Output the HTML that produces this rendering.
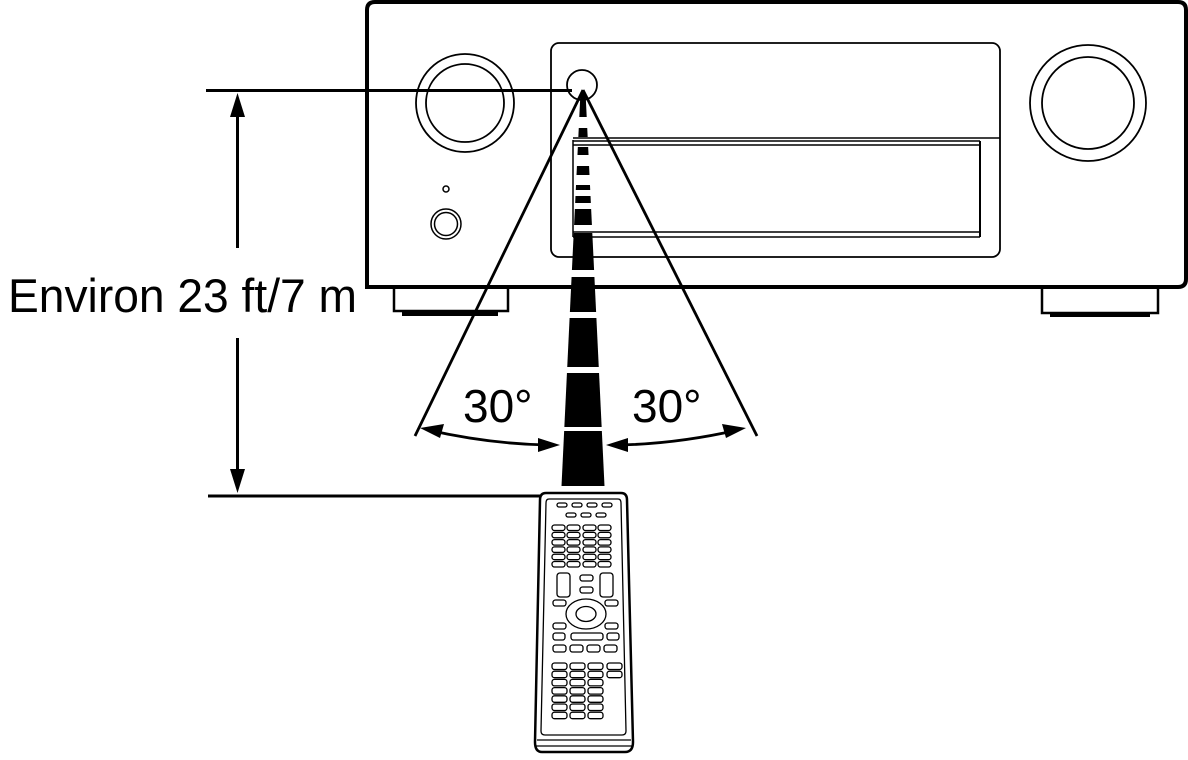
<!DOCTYPE html>
<html><head><meta charset="utf-8"><style>html,body{margin:0;padding:0;background:#fff}svg{display:block}</style></head>
<body>
<svg width="1188" height="760" viewBox="0 0 1188 760" xmlns="http://www.w3.org/2000/svg">
<defs>
<clipPath id="beam"><polygon points="580.5,92 585.5,92 604.5,486 561.5,486"/></clipPath>
</defs>
<g fill="none" stroke="#000">
<!-- receiver body -->
<path d="M367,287 V10 Q367,2 375,2 H1178 Q1186,2 1186,10 V279 Q1186,287 1178,287 Z" stroke-width="4" fill="#fff"/>
<!-- feet -->
<path d="M394,287 V311 H508 V287" stroke-width="2.5"/>
<rect x="402" y="311" width="96" height="5" fill="#000" stroke="none"/>
<path d="M1042,289 V313 H1158 V289" stroke-width="2.5"/>
<rect x="1050" y="312" width="100" height="5" fill="#000" stroke="none"/>
<!-- display panel -->
<rect x="551" y="43" width="449" height="214" rx="8" stroke-width="1.8"/>
<line x1="573" y1="138" x2="1000" y2="138" stroke-width="1.5"/>
<line x1="573" y1="141" x2="980" y2="141" stroke-width="1.5"/>
<line x1="573" y1="145" x2="980" y2="145" stroke-width="1.5"/>
<line x1="573" y1="232" x2="980" y2="232" stroke-width="1.5"/>
<line x1="573" y1="237" x2="980" y2="237" stroke-width="1.5"/>
<line x1="980" y1="141" x2="980" y2="237" stroke-width="2"/>
<line x1="573" y1="140" x2="573" y2="237" stroke-width="1.5"/>
<!-- knobs -->
<circle cx="465" cy="103" r="49" stroke-width="1.8"/>
<circle cx="465" cy="103" r="39" stroke-width="1.8"/>
<circle cx="1088" cy="103" r="58" stroke-width="1.8"/>
<circle cx="1088" cy="103" r="46" stroke-width="1.8"/>
<circle cx="446" cy="189" r="3" stroke-width="1.5"/>
<circle cx="446" cy="224" r="15" stroke-width="1.5"/>
<circle cx="446" cy="224" r="11.5" stroke-width="1.5"/>
<!-- sensor -->
<circle cx="582" cy="85" r="15" stroke-width="1.8"/>
</g>
<!-- dimension lines -->
<g stroke="#000" fill="#000">
<line x1="206" y1="90.5" x2="572" y2="90.5" stroke-width="3"/>
<line x1="208" y1="496" x2="540" y2="496" stroke-width="3"/>
<line x1="237.5" y1="110" x2="237.5" y2="248" stroke-width="3"/>
<line x1="237.5" y1="338" x2="237.5" y2="475" stroke-width="3"/>
<polygon points="237.5,93 230,117 245,117" stroke="none"/>
<polygon points="237.5,493 230,469 245,469" stroke="none"/>
<!-- beam lines -->
<line x1="583" y1="90" x2="415" y2="436" stroke-width="2.8"/>
<line x1="583" y1="90" x2="757" y2="436" stroke-width="2.8"/>
</g>
<!-- dashed beam -->
<g clip-path="url(#beam)" fill="#000">
<rect x="550" y="92" width="70" height="25"/>
<rect x="550" y="128" width="70" height="9"/>
<rect x="550" y="147" width="70" height="8"/>
<rect x="550" y="166" width="70" height="9"/>
<rect x="550" y="185" width="70" height="5"/>
<rect x="550" y="196" width="70" height="7"/>
<rect x="550" y="209" width="70" height="16"/>
<rect x="550" y="233" width="70" height="37"/>
<rect x="550" y="277" width="70" height="35"/>
<rect x="550" y="318" width="70" height="49"/>
<rect x="550" y="373" width="70" height="54"/>
<rect x="550" y="431" width="70" height="55"/>
</g>
<!-- angle arrows -->
<g fill="none" stroke="#000" stroke-width="2.8">
<path d="M428,430 Q490,444 548,445"/>
<path d="M738,430 Q676,444 618,445"/>
</g>
<g fill="#000">
<polygon points="420,428 444,424 440,438"/>
<polygon points="560,445 538,438 538,452"/>
<polygon points="746,428 722,424 726,438"/>
<polygon points="606,445 628,438 628,452"/>
</g>
<g font-family="Liberation Sans, sans-serif" fill="#000">
<text x="8" y="312" font-size="47" textLength="349" lengthAdjust="spacingAndGlyphs">Environ 23 ft/7 m</text>
<text x="463" y="422" font-size="46">30°</text>
<text x="632" y="422" font-size="46">30°</text>
</g>
<!-- remote -->
<g fill="#fff" stroke="#000">
<path d="M546,493 H621 Q627,493 627,500 L633,742 Q633,752 625,752 H542 Q535,752 535,742 L540,500 Q540,493 546,493 Z" stroke-width="2.5"/>
<path d="M549,499 H618 Q621,499 621,503 L626,731 Q626,735 622,735 H545 Q541,735 541,731 L546,503 Q546,499 549,499 Z" stroke-width="1.3"/>
<line x1="537" y1="740" x2="631" y2="740" stroke-width="1.3"/>
<line x1="536" y1="746" x2="632" y2="746" stroke-width="1.3"/>
</g>
<g id="btns" fill="#fff" stroke="#000" stroke-width="1.3"></g>
<script>
(function(){
var g=document.getElementById('btns'),ns='http://www.w3.org/2000/svg';
function r(x,y,w,h,rx){var e=document.createElementNS(ns,'rect');e.setAttribute('x',x);e.setAttribute('y',y);e.setAttribute('width',w);e.setAttribute('height',h);e.setAttribute('rx',rx||2.5);g.appendChild(e);}
function el(cx,cy,rx,ry){var e=document.createElementNS(ns,'ellipse');e.setAttribute('cx',cx);e.setAttribute('cy',cy);e.setAttribute('rx',rx);e.setAttribute('ry',ry);g.appendChild(e);}
[557,572,587,602].forEach(function(x){r(x,503,10,4,2);});
[566,581,596].forEach(function(x){r(x,513,10,4,2);});
for(var i=0;i<6;i++)[552,567,583,598].forEach(function(x){r(x,525+i*7.3,13,5.5);});
r(557,573,13,24,3);r(600,573,13,24,3);
r(580,575,13,6);r(580,587,13,6);
r(553,600,13,6);r(605,600,13,6);
el(586,614,20,15);el(586,614,10,7.5);
r(553,623,13,6);r(605,623,13,6);
r(553,633,12,7);r(571,633,32,7);r(607,633,12,7);
[553,570,587,604].forEach(function(x){r(x,645,13,7);});
for(var j=0;j<7;j++){var cols=j<2?[552,570,588,607]:[552,570,588];cols.forEach(function(x){r(x,663+j*8.2,15,6.5);});}
})();
</script>
</svg>
</body></html>
